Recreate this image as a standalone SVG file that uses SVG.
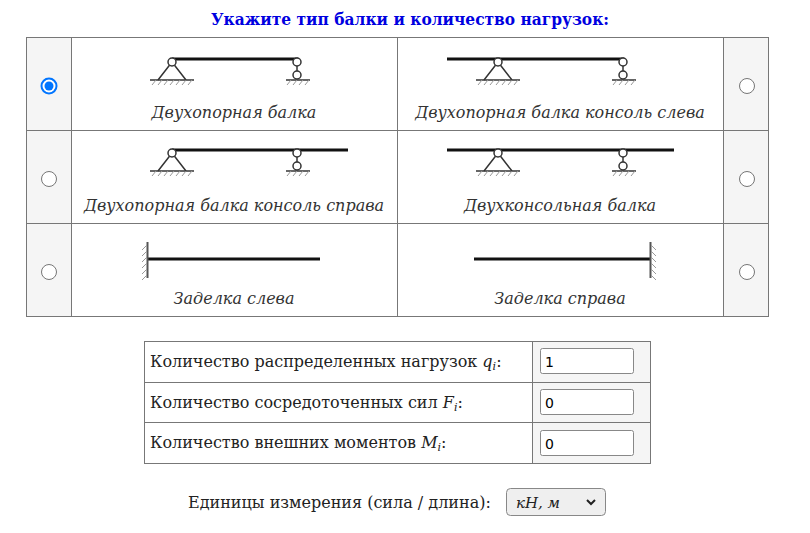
<svg xmlns="http://www.w3.org/2000/svg" width="810" height="533" viewBox="0 0 810 533">
<style>
.cap{font-family:"DejaVu Serif",serif;font-style:italic;font-size:16px;fill:#333;text-anchor:middle}
.t{font-family:"DejaVu Serif",serif;font-size:16px;fill:#222}
.beam{stroke:#111;stroke-width:3;fill:none}
.sup{stroke:#333;stroke-width:1.5;fill:#fff}
.gnd{stroke:#333;stroke-width:1.5}
.hat{stroke:#999;stroke-width:1}
.grid{stroke:#777;stroke-width:1;fill:none}
.inp{fill:#fff;stroke:#888;stroke-width:1}
</style>
<defs>
<g id="pin">
<line class="gnd" x1="-22" y1="21" x2="22" y2="21"/>
<path class="hat" d="M-20 26l4-5M-14 26l4-5M-8 26l4-5M-2 26l4-5M4 26l4-5M10 26l4-5M16 26l4-5"/>
<path class="sup" d="M0 3L-14 21M0 3L14 21" fill="none"/>
<circle class="sup" cx="0" cy="3" r="4"/>
</g>
<g id="roll">
<line class="gnd" x1="-11" y1="21" x2="13" y2="21"/>
<path class="hat" d="M-10 26l4-5M-4 26l4-5M2 26l4-5M8 26l4-5"/>
<line class="sup" x1="0" y1="3" x2="0" y2="15"/>
<circle class="sup" cx="0" cy="3" r="4"/>
<circle class="sup" cx="0" cy="16" r="4"/>
</g>
<g id="radio"><circle r="7.5" fill="#fff" stroke="#767676" stroke-width="1"/></g>
</defs>
<text x="410" y="25" font-family="DejaVu Serif,serif" font-weight="bold" font-size="16" fill="#0000e0" text-anchor="middle" textLength="398" lengthAdjust="spacingAndGlyphs">Укажите тип балки и количество нагрузок:</text>
<g id="grid">
<rect x="26" y="37" width="45" height="279" fill="#f5f5f5"/>
<rect x="723" y="37" width="45" height="279" fill="#f5f5f5"/>
<rect class="grid" x="26.5" y="37.5" width="742" height="279"/>
<path class="grid" d="M71.5 37v279M397.5 37v279M723.5 37v279M26 130.5h742M26 223.5h742"/>
</g>
<g id="r1"><circle cx="49" cy="86" r="7.5" fill="#fff" stroke="#0075ff" stroke-width="2"/><circle cx="49" cy="86" r="4.5" fill="#0075ff"/></g>
<use id="r2" href="#radio" x="747" y="86"/>
<use id="r3" href="#radio" x="49" y="179"/>
<use id="r4" href="#radio" x="747" y="179"/>
<use id="r5" href="#radio" x="49" y="272"/>
<use id="r6" href="#radio" x="747" y="272"/>
<g id="b1"><line class="beam" x1="172" y1="59" x2="298" y2="59"/><use href="#pin" x="172" y="59"/><use href="#roll" x="297" y="59"/><text class="cap" x="234" y="118">Двухопорная балка</text></g>
<g id="b2"><line class="beam" x1="447" y1="59" x2="624" y2="59"/><use href="#pin" x="498" y="59"/><use href="#roll" x="623" y="59"/><text class="cap" x="560" y="118">Двухопорная балка консоль слева</text></g>
<g id="b3"><line class="beam" x1="172" y1="150" x2="348" y2="150"/><use href="#pin" x="172" y="150"/><use href="#roll" x="297" y="150"/><text class="cap" x="234" y="211">Двухопорная балка консоль справа</text></g>
<g id="b4"><line class="beam" x1="447" y1="150" x2="674" y2="150"/><use href="#pin" x="498" y="150"/><use href="#roll" x="623" y="150"/><text class="cap" x="560" y="211">Двухконсольная балка</text></g>
<g id="b5"><line class="beam" x1="147" y1="259" x2="320" y2="259"/><line x1="147.5" y1="242" x2="147.5" y2="278" stroke="#555" stroke-width="2"/><path class="hat" d="M142 250l5-5M142 256l5-5M142 262l5-5M142 268l5-5M142 274l5-5M142 280l5-5"/><text class="cap" x="234" y="304">Заделка слева</text></g>
<g id="b6"><line class="beam" x1="474" y1="259" x2="651" y2="259"/><line x1="650.5" y1="242" x2="650.5" y2="278" stroke="#555" stroke-width="2"/><path class="hat" d="M651 245l5 5M651 251l5 5M651 257l5 5M651 263l5 5M651 269l5 5M651 275l5 5"/><text class="cap" x="560" y="304">Заделка справа</text></g>
<g id="params">
<rect x="532" y="341" width="118" height="122" fill="#f5f5f5"/>
<rect class="grid" x="144.5" y="341.5" width="506" height="122"/>
<path class="grid" d="M532.5 341v122M144 382.5h506M144 422.5h506"/>
<text class="t" x="150" y="367">Количество распределенных нагрузок <tspan font-style="italic">q</tspan><tspan font-style="italic" font-size="11" dy="3">i</tspan><tspan dy="-3">:</tspan></text>
<text class="t" x="150" y="408">Количество сосредоточенных сил <tspan font-style="italic">F</tspan><tspan font-style="italic" font-size="11" dy="3">i</tspan><tspan dy="-3">:</tspan></text>
<text class="t" x="150" y="448">Количество внешних моментов <tspan font-style="italic">M</tspan><tspan font-style="italic" font-size="11" dy="3">i</tspan><tspan dy="-3">:</tspan></text>
<rect class="inp" x="540.5" y="348.5" width="93" height="25" rx="2"/>
<rect class="inp" x="540.5" y="389.5" width="93" height="25" rx="2"/>
<rect class="inp" x="540.5" y="430.5" width="93" height="25" rx="2"/>
<text x="545" y="367" font-family="DejaVu Sans,sans-serif" font-size="14" fill="#000">1</text>
<text x="545" y="408" font-family="DejaVu Sans,sans-serif" font-size="14" fill="#000">0</text>
<text x="545" y="449" font-family="DejaVu Sans,sans-serif" font-size="14" fill="#000">0</text>
</g>
<g id="units">
<text class="t" x="188" y="508">Единицы измерения (сила / длина):</text>
<rect x="506.5" y="488.5" width="99" height="27" rx="4" fill="#efefef" stroke="#888"/>
<text x="516" y="508" font-family="DejaVu Serif,serif" font-style="italic" font-size="15" fill="#222">кН, м</text>
<path d="M587 500l4 4 4-4" fill="none" stroke="#222" stroke-width="2"/>
</g>
</svg>
